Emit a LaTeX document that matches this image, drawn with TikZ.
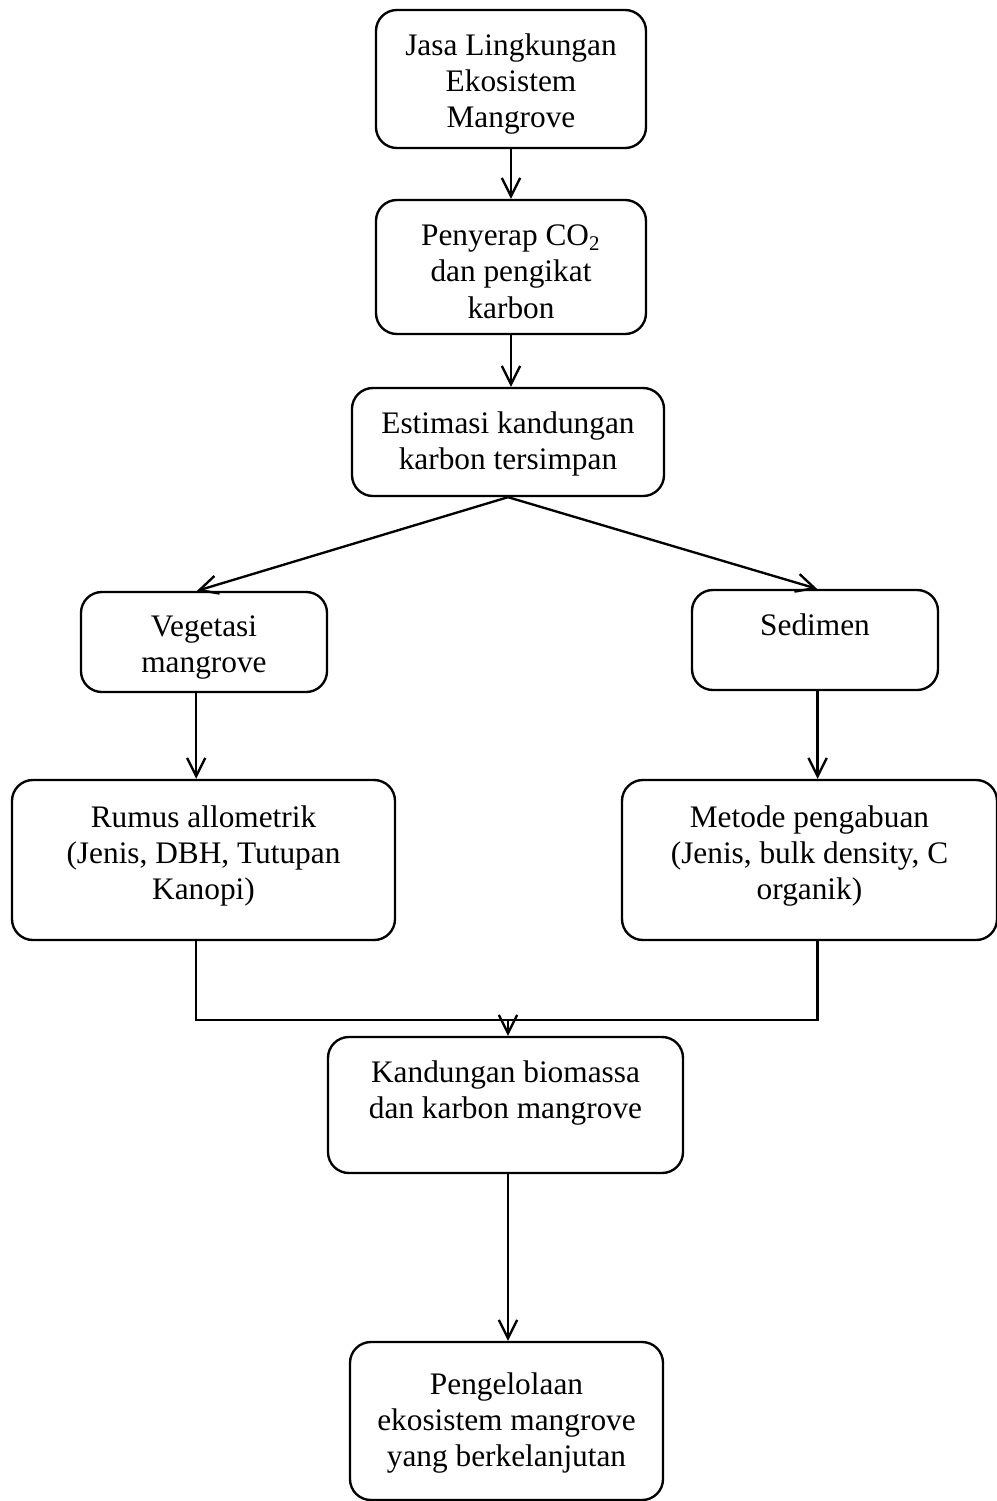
\documentclass[tikz,border=0pt]{standalone}
\usepackage{fontspec}
\setmainfont{Liberation Serif}
\usetikzlibrary{arrows.meta}

\begin{document}
\begin{tikzpicture}[x=0.383pt, y=-0.383pt,
    box/.style 2 args={draw, line width=0.9pt, rounded corners=8pt, align=center,
        minimum width=#1*0.383pt, minimum height=#2*0.383pt, inner sep=0pt,
        font=\fontsize{12}{13.8}\selectfont},
    arr/.style={-{Straight Barb[length=7pt, width=7pt, line width=0.9pt]}, line width=0.9pt},
    link/.style={line width=0.9pt}]

    % --- Frame ---
    \useasboundingbox (0,0) rectangle (996,1501);

    % --- Boxes ---
    \node[box={270}{138}, text height=39.8pt] (jasa) at (511,79) {Jasa Lingkungan\\Ekosistem\\Mangrove};
    \node[box={270}{134}, text height=39.2pt] (serap) at (511,267) {Penyerap CO\textsubscript{2}\\dan pengikat\\karbon};
    \node[box={312}{108}, text height=23.7pt] (estim) at (508,442) {Estimasi kandungan\\karbon tersimpan};
    \node[box={246}{100}, text height=26.3pt] (veg) at (204,642) {Vegetasi\\mangrove};
    \node[box={246}{100}, text depth=12pt] (sed) at (815,640) {Sedimen};
    \node[box={383}{160}, text depth=6pt] (rumus) at (203.5,860) {Rumus allometrik\\(Jenis, DBH, Tutupan\\Kanopi)};
    \node[box={375}{160}, text depth=6pt] (abu) at (809.5,860) {Metode pengabuan\\(Jenis, bulk density, C\\organik)};
    \node[box={355}{136}, text depth=12pt] (kand) at (505.5,1105) {Kandungan biomassa\\dan karbon mangrove};
    \node[box={313}{158}, text height=37.5pt] (kelola) at (506.5,1421) {Pengelolaan\\ekosistem mangrove\\yang berkelanjutan};

    % --- Arrows ---
    \draw[arr] (jasa) -- (jasa |- serap.north);
    \draw[arr] (serap) -- (serap |- estim.north);
    \draw[arr] (estim.south) -- ([xshift=-2.7pt]veg.north);
    \draw[arr] (estim.south) -- ([xshift=0.8pt]sed.north);
    \draw[arr] ([xshift=-3pt]veg.south) -- ([xshift=-3pt]veg.south |- rumus.north);
    \draw[arr] ([xshift=1pt]sed.south) -- ([xshift=1pt]sed.south |- abu.north);

    % --- Joining line ---
    \coordinate (join) at (508,1020);
    \draw[link] ([xshift=-3pt]veg.south |- rumus.south) |- (join);
    \draw[link] ([xshift=1pt]sed.south |- abu.south) |- (join);
    \draw[arr] (join) -- (join |- kand.north);
    \draw[arr] (kand.south -| join) -- (join |- kelola.north);

\end{tikzpicture}
\end{document}
